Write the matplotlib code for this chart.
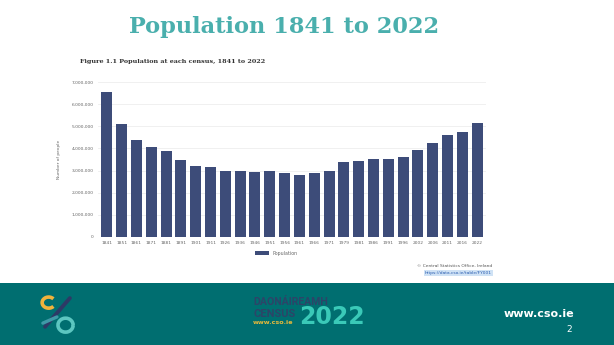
import matplotlib.pyplot as plt
from matplotlib.patches import Rectangle, Arc

years = ['1841', '1851', '1861', '1871', '1881', '1891', '1901', '1911', '1926',
         '1936', '1946', '1951', '1956', '1961', '1966', '1971', '1979', '1981',
         '1986', '1991', '1996', '2002', '2006', '2011', '2016', '2022']
population = [6528799, 5111557, 4402111, 4053187, 3870020, 3468694, 3221823,
              3139688, 2971992, 2968420, 2955107, 2960593, 2898264, 2818341,
              2884002, 2978248, 3368217, 3443405, 3540643, 3525719, 3626087,
              3917203, 4239848, 4588252, 4761865, 5149139]
yticks = [0, 1000000, 2000000, 3000000, 4000000, 5000000, 6000000, 7000000]

W, H = 614, 345
fig = plt.figure(figsize=(W / 100, H / 100), dpi=100)
fig.patch.set_facecolor('white')

def fx(x):
    return x / W

def fy(y):
    return 1 - y / H

# slide title
fig.text(fx(284), fy(27), 'Population 1841 to 2022', ha='center', va='center',
         fontsize=16.2, fontweight='bold', family='DejaVu Serif', color='#4aafad')

# figure caption
fig.text(fx(80), fy(62), 'Figure 1.1 Population at each census, 1841 to 2022',
         ha='left', va='center', fontsize=4.6, fontweight='bold',
         family='DejaVu Serif', color='#333333')

# bar chart
ax = fig.add_axes([fx(98), fy(237), fx(486) - fx(98), fy(82) - fy(237)])
ax.bar(range(len(years)), population, width=0.74, color='#3d4c79', zorder=3,
       label='Population')
ax.set_xlim(-0.6, len(years) - 0.4)
ax.set_ylim(0, 7000000)
ax.set_yticks(yticks)
ax.set_yticklabels(['0'] + [f'{v:,}' for v in yticks[1:]])
ax.set_xticks(range(len(years)))
ax.set_xticklabels(years)
ax.tick_params(axis='both', labelsize=3.2, colors='#666666', length=0, pad=3)
ax.grid(axis='y', color='#eeeeee', linewidth=0.6, zorder=0)
for s in ax.spines.values():
    s.set_visible(False)
ax.set_ylabel('Number of people', fontsize=3.2, color='#666666', labelpad=8)
ax.legend(loc='upper center', bbox_to_anchor=(0.46, -0.06), frameon=False,
          fontsize=3.4, handlelength=3, handleheight=0.9, labelcolor='#666666')

# source notes
fig.text(fx(492), fy(266), '\u00a9 Central Statistics Office, Ireland', ha='right',
         va='center', fontsize=3.2, color='#555555')
fig.text(fx(492), fy(273), 'https://data.cso.ie/table/FY001', ha='right',
         va='center', fontsize=3.2, color='#2a5db0',
         bbox=dict(facecolor='#cfe2f5', edgecolor='none', pad=0.6))

# footer band
fig.patches.append(Rectangle((0, 0), 1, fy(283), transform=fig.transFigure,
                             facecolor='#006e70', edgecolor='none', zorder=-5))

# cso logo
lax = fig.add_axes([fx(40), fy(335), fx(36), fy(294) - fy(335)])
lax.set_xlim(0, 1)
lax.set_ylim(0, 1)
lax.axis('off')
lax.set_zorder(5)
lax.add_patch(Arc((0.24, 0.79), 0.36, 0.27, theta1=35, theta2=325,
                  color='#f0b23c', linewidth=2.6))
lax.plot([0.83, 0.14], [0.9, 0.2], color='#2d3a66', linewidth=2.8,
         solid_capstyle='round')
lax.add_patch(Arc((0.71, 0.24), 0.42, 0.34, theta1=0, theta2=360,
                  color='#5cc6c0', linewidth=2.6))
lax.plot([0.08, 0.47], [0.29, 0.44], color='#3f9aa7', linewidth=2.4,
         solid_capstyle='round')

# census 2022 logo
fig.text(fx(253), fy(301.5), 'DAONÁIREAMH', ha='left', va='center', fontsize=7.6,
         fontweight='bold', color='#2d4468', family='Roboto')
fig.text(fx(253), fy(314), 'CENSUS', ha='left', va='center', fontsize=8,
         fontweight='bold', color='#2d4468', family='Roboto')
fig.text(fx(253), fy(322), 'www.cso.ie', ha='left', va='center', fontsize=4.6,
         fontweight='bold', color='#e8b93a', family='DejaVu Sans')
fig.text(fx(299), fy(317.5), '2022', ha='left', va='center', fontsize=17,
         fontweight='bold', color='#3ac9b8', family='DejaVu Sans')

# right footer
fig.text(fx(574), fy(314), 'www.cso.ie', ha='right', va='center', fontsize=8,
         fontweight='bold', color='white', family='DejaVu Sans')
fig.text(fx(572), fy(330), '2', ha='right', va='center', fontsize=6.5,
         color='white', family='DejaVu Sans')

fig.savefig('out.png', dpi=100)
